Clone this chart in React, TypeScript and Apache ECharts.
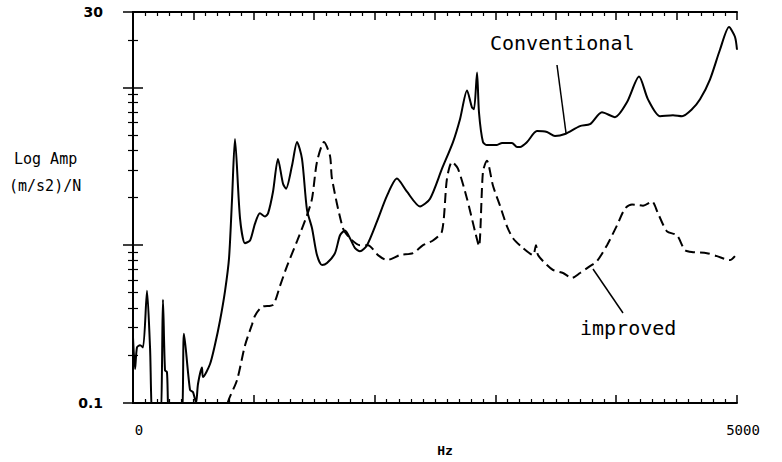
import React, { useEffect, useRef } from "react";
import * as echarts from "echarts";

// Frequency (Hz) and amplitude ((m/s2)/N)
const convHz = [0,17,33,58,83,116,141,166,224,248,265,281,306,397,422,472,497,522,538,571,579,637,679,720,762,795,820,844,886,927,969,1010,1051,1093,1118,1159,1200,1242,1267,1316,1358,1399,1440,1482,1523,1565,1606,1672,1714,1755,1796,1838,1879,1937,2020,2103,2185,2268,2376,2459,2558,2649,2707,2765,2806,2823,2848,2864,2897,2930,3013,3055,3137,3179,3204,3262,3344,3427,3493,3576,3700,3783,3882,3990,4089,4189,4263,4363,4470,4545,4627,4694,4776,4859,4934,4983,5000];
const convAmp = [0.26,0.164,0.225,0.232,0.225,0.514,0.225,0.08,0.08,0.451,0.161,0.157,0.08,0.08,0.275,0.121,0.117,0.1,0.132,0.168,0.146,0.176,0.235,0.332,0.514,0.828,1.97,4.70,1.48,1.03,1.07,1.37,1.59,1.52,1.59,2.18,3.52,2.45,2.28,3.18,4.50,3.52,1.68,1.28,0.865,0.748,0.770,0.89,1.155,1.24,1.106,0.957,0.916,1.0,1.415,2.06,2.64,2.18,1.76,1.97,3.05,4.50,6.28,9.56,7.47,7.26,12.4,6.95,4.50,4.31,4.31,4.44,4.44,4.19,4.19,4.50,5.28,5.21,4.91,5.06,5.68,5.84,6.95,6.47,8.04,11.7,8.39,6.56,6.66,6.56,7.26,8.39,11.2,17.3,24.1,20.9,17.3];

const impHz = [770,786,861,927,985,1010,1068,1159,1217,1275,1358,1440,1482,1523,1581,1631,1647,1738,1796,1879,1945,2028,2103,2210,2318,2401,2483,2558,2599,2641,2690,2765,2831,2864,2897,2930,2980,3038,3096,3146,3229,3311,3336,3353,3427,3477,3560,3634,3700,3783,3841,3924,4007,4073,4131,4222,4296,4346,4420,4503,4569,4635,4751,4834,4942,4983];
const impAmp = [0.08,0.1015,0.1395,0.2316,0.314,0.3575,0.407,0.419,0.552,0.737,1.059,1.543,1.97,3.37,4.50,3.68,2.64,1.28,1.106,1.0,1.0,0.865,0.804,0.865,0.89,1.0,1.07,1.224,2.64,3.37,3.05,1.97,1.224,0.985,2.92,3.42,2.38,1.78,1.315,1.106,0.957,0.865,1.0,0.865,0.748,0.696,0.666,0.62,0.666,0.737,0.792,1.0,1.335,1.707,1.81,1.78,1.89,1.59,1.224,1.155,0.93,0.903,0.89,0.852,0.804,0.852];

const xMin = 0;
const xMax = 5000;
const yMin = 0.1;
const yMax = 30;
const xLabels = ["0", "5000"];
const yLabels = ["0.1", "30"];

const seriesNames = ["Conventional", "improved"];

export default function App() {
  const ref = useRef<HTMLDivElement>(null);
  useEffect(() => {
    if (!ref.current) return;
    const chart = echarts.init(ref.current, null, { renderer: "svg" });
    const conv = convHz.map((h, i) => [h, convAmp[i]]);
    const imp = impHz.map((h, i) => [h, impAmp[i]]);
    const axisLine = { show: true, lineStyle: { color: "#000", width: 2 } };
    const mono = "DejaVu Sans Mono";
    chart.setOption({
      animation: false,
      backgroundColor: "#fff",
      grid: { left: 133, right: 45, top: 12, bottom: 56, containLabel: false },
      xAxis: [
        {
          type: "value",
          position: "bottom",
          min: xMin,
          max: xMax,
          interval: 1000,
          axisLine,
          splitLine: { show: false },
          axisTick: { inside: true, length: 8, lineStyle: { color: "#000", width: 1.5 } },
          minorTick: { show: true, splitNumber: 10, length: 4, lineStyle: { color: "#000", width: 1.2 } },
          axisLabel: {
            margin: 20,
            color: "#000",
            fontFamily: mono,
            fontSize: 14,
            padding: [0, 0, 0, 12],
            formatter: (v: number) =>
              Math.abs(v - xMin) < 1e-6 ? xLabels[0] : Math.abs(v - xMax) < 1e-6 ? xLabels[1] : "",
          },
          name: "Hz",
          nameLocation: "middle",
          nameGap: 41,
          nameTextStyle: { color: "#000", fontFamily: mono, fontSize: 13, fontWeight: "bold", padding: [0, 0, 0, 20] },
        },
        {
          type: "value",
          position: "top",
          min: xMin,
          max: xMax,
          interval: 500,
          axisLine,
          splitLine: { show: false },
          axisTick: { inside: true, length: 8, lineStyle: { color: "#000", width: 1.5 } },
          minorTick: { show: true, splitNumber: 5, length: 4, lineStyle: { color: "#000", width: 1.2 } },
          axisLabel: { show: false },
        },
      ],
      yAxis: [
        {
          type: "log",
          logBase: 10,
          position: "left",
          min: yMin,
          max: yMax,
          axisLine,
          splitLine: { show: false },
          axisTick: { inside: true, length: 10, lineStyle: { color: "#000", width: 1.5 } },
          minorTick: { show: true, splitNumber: 9, length: 5, lineStyle: { color: "#000", width: 1.2 } },
          axisLabel: {
            margin: 30,
            color: "#000",
            fontFamily: "DejaVu Sans",
            fontSize: 14,
            fontWeight: "bold",
            formatter: (v: number) =>
              Math.abs(v - yMin) < 1e-6 ? yLabels[0] : Math.abs(v - yMax) < 1e-3 ? yLabels[1] : "",
          },
        },
        {
          type: "log",
          logBase: 10,
          position: "right",
          min: yMin,
          max: yMax,
          axisLine,
          splitLine: { show: false },
          axisTick: { inside: true, length: 10, lineStyle: { color: "#000", width: 1.5 } },
          minorTick: { show: true, splitNumber: 9, length: 5, lineStyle: { color: "#000", width: 1.2 } },
          axisLabel: { show: false },
        },
      ],
      series: [
        {
          name: seriesNames[0],
          type: "line",
          data: conv,
          showSymbol: false,
          smooth: 0.25,
          clip: true,
          lineStyle: { color: "#000", width: 2 },
        },
        {
          name: seriesNames[1],
          type: "line",
          data: imp,
          showSymbol: false,
          smooth: 0.25,
          clip: true,
          lineStyle: { color: "#000", width: 2, type: [10, 5] },
        },
      ],
      graphic: [
        {
          type: "text",
          left: 14,
          top: 151,
          style: { text: "Log Amp", fill: "#000", font: `15px "${mono}"` },
        },
        {
          type: "text",
          left: 9,
          top: 178,
          style: { text: "(m/s2)/N", fill: "#000", font: `15px "${mono}"` },
        },
        {
          type: "text",
          left: 490,
          top: 33,
          style: { text: seriesNames[0], fill: "#000", font: `20px "${mono}"` },
        },
        {
          type: "text",
          left: 580,
          top: 318,
          style: { text: seriesNames[1], fill: "#000", font: `20px "${mono}"` },
        },
        {
          type: "line",
          shape: { x1: 557, y1: 65, x2: 566, y2: 133 },
          style: { stroke: "#000", lineWidth: 1.5 },
        },
        {
          type: "line",
          shape: { x1: 593, y1: 269, x2: 623, y2: 313 },
          style: { stroke: "#000", lineWidth: 1.5 },
        },
      ],
    });
    return () => chart.dispose();
  }, []);
  return (
    <div
      ref={ref}
      style={{ position: "fixed", left: 0, top: 0, width: 782, height: 462, background: "#fff" }}
    />
  );
}
